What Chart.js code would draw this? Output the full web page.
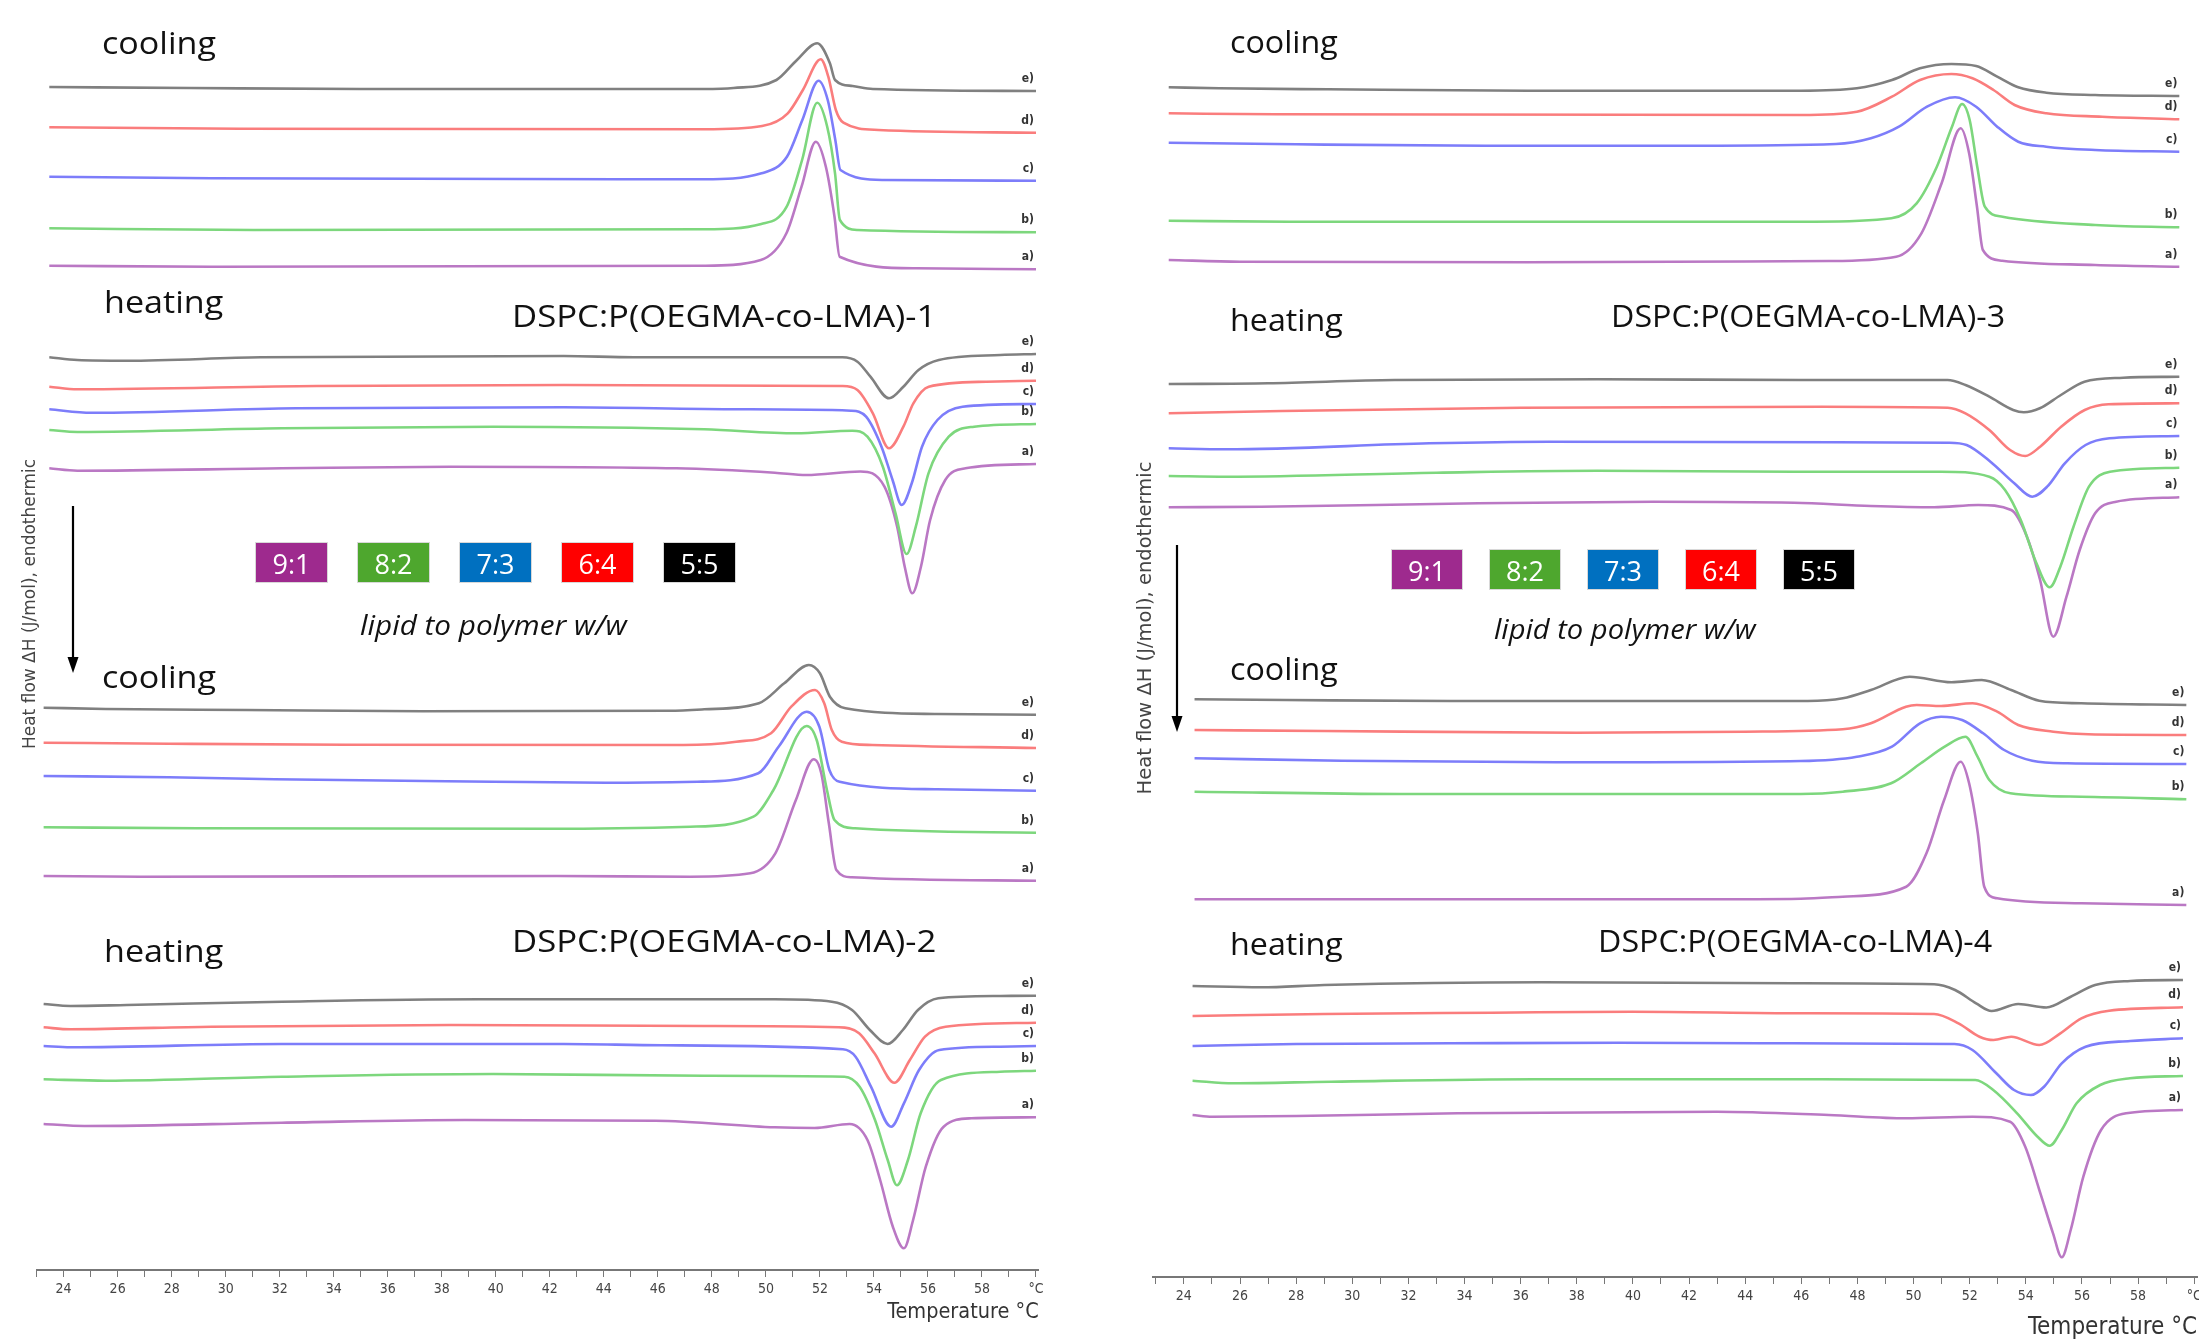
<!DOCTYPE html>
<html>
<head>
<meta charset="utf-8">
<title>DSPC:P(OEGMA-co-LMA) DSC thermograms</title>
<script src="https://cdn.jsdelivr.net/npm/chart.js@4.4.1/dist/chart.umd.min.js"></script>
<style>
  html, body { margin: 0; padding: 0; background: #fff; }
  body { position: relative; width: 2199px; height: 1340px; overflow: hidden; font-family: "Open Sans", Lato, sans-serif; color: #111; }
  .col { position: absolute; top: 0; height: 1340px; }
  .txt { position: absolute; line-height: 1; white-space: nowrap; font-size: 31px; transform-origin: 0 0; }
  .sl { transform: scaleX(1.1); }
  .slt { transform: scaleX(1.12); }
  .sr { transform: scaleX(1.04); }
  .legend { position: absolute; display: flex; }
  .legend span { display: block; height: 41px; line-height: 41px; text-align: center; color: #fff; font-size: 27px; box-sizing: border-box; border: 1px solid #d8d8d8; }
  .lipid { font-style: italic; }
  .ylab { position: absolute; transform: translate(-50%, -50%) rotate(-90deg); font-family: "DejaVu Sans", Verdana, sans-serif; color: #444; white-space: nowrap; }
  svg.arrow { position: absolute; overflow: visible; }
</style>
</head>
<body>

<div class="col" style="left:0;width:1100px"><canvas id="chartLeft"></canvas></div>
<div class="col" style="left:1100px;width:1099px"><canvas id="chartRight"></canvas></div>

<!-- left column texts -->
<div class="txt sl" style="left:102px;top:27px">cooling</div>
<div class="txt sl" style="left:104px;top:286px">heating</div>
<div class="txt slt" style="left:512px;top:300px">DSPC:P(OEGMA-co-LMA)-1</div>
<div class="txt sl" style="left:102px;top:661px">cooling</div>
<div class="txt sl" style="left:104px;top:935px">heating</div>
<div class="txt slt" style="left:512px;top:925px">DSPC:P(OEGMA-co-LMA)-2</div>
<div class="legend" id="legendLeft" style="left:255px;top:542px;gap:29px"></div>
<div class="txt lipid sl" style="left:360px;top:611px;font-size:27px">lipid to polymer w/w</div>
<div class="ylab" style="left:29px;top:604px;font-size:17px">Heat flow ΔH (J/mol), endothermic</div>
<svg class="arrow" style="left:66px;top:506px" width="14" height="168">
  <line x1="7" y1="0" x2="7" y2="156" stroke="#000" stroke-width="2.2"/>
  <path d="M1.5,151 L7,167 L12.5,151 Z" fill="#000"/>
</svg>

<!-- right column texts -->
<div class="txt sr" style="left:1230px;top:26px">cooling</div>
<div class="txt sr" style="left:1230px;top:304px">heating</div>
<div class="txt sr" style="left:1611px;top:300px">DSPC:P(OEGMA-co-LMA)-3</div>
<div class="txt sr" style="left:1230px;top:653px">cooling</div>
<div class="txt sr" style="left:1230px;top:928px">heating</div>
<div class="txt sr" style="left:1598px;top:925px">DSPC:P(OEGMA-co-LMA)-4</div>
<div class="legend" id="legendRight" style="left:1391px;top:549px;gap:26px"></div>
<div class="txt lipid sr" style="left:1494px;top:614px;font-size:28px">lipid to polymer w/w</div>
<div class="ylab" style="left:1144px;top:628px;font-size:19.5px">Heat flow ΔH (J/mol), endothermic</div>
<svg class="arrow" style="left:1170px;top:545px" width="14" height="188">
  <line x1="7" y1="0" x2="7" y2="176" stroke="#000" stroke-width="2.2"/>
  <path d="M1.5,171 L7,187 L12.5,171 Z" fill="#000"/>
</svg>

<script>
// curve order inside every panel: e), d), c), b), a)
const curveTags = ['e)', 'd)', 'c)', 'b)', 'a)'];
const curveColors = ['rgb(128,128,128)', 'rgb(250,125,125)', 'rgb(125,125,250)', 'rgb(125,215,125)', 'rgb(186,120,196)'];

// legend (lipid to polymer w/w)
const ratios = ['9:1', '8:2', '7:3', '6:4', '5:5'];
const ratioColors = ['#9e2a8e', '#4ea72e', '#0070c0', '#ff0000', '#000000'];

// x axis: °C, labels on even values, unit shown in place of 60
const majorTicks = [24, 26, 28, 30, 32, 34, 36, 38, 40, 42, 44, 46, 48, 50, 52, 54, 56, 58];
const unitTick = 60;

// heat flow, arbitrary units (stacked, offset traces), points as [T, value]
// polymer 1, cooling
const p1Cool = [
  [[23.47,118.3],[28.7,118.2],[35,118.1],[47.7,118.1],[48.8,118.2],[50.39,119.0],[51.15,121.0],[51.9,122.67],[52.37,120.67],[52.56,119.0],[53.21,118.4],[53.96,118.1],[60,117.9]],
  [[23.47,114.27],[30.5,114.13],[47.72,114.07],[49.86,114.4],[50.81,115.67],[51.37,118.0],[52.03,121.07],[52.31,119.33],[52.59,116.0],[52.87,114.73],[54.17,114.0],[60,113.73]],
  [[23.47,109.33],[29.47,109.17],[47.72,109.07],[49.84,109.67],[50.78,111.33],[51.35,115.0],[51.95,118.93],[52.29,117.0],[52.57,113.0],[52.76,110.0],[54.36,109.0],[60,108.93]],
  [[23.47,104.17],[31.03,104.0],[47.72,104.07],[49.83,104.6],[50.77,106.33],[51.34,111.0],[51.9,116.73],[52.27,114.33],[52.56,109.67],[52.74,105.0],[53.4,104.0],[60,103.77]],
  [[23.47,100.43],[29.47,100.33],[47.72,100.43],[49.81,101.0],[50.76,103.67],[51.32,108.33],[51.85,112.83],[52.22,110.33],[52.54,105.33],[52.73,101.33],[55.55,100.17],[60,100.07]]
];
// polymer 1, heating
const p1Heat = [
  [[23.47,91.27],[24.51,91.0],[26.34,90.93],[31.3,91.27],[42.51,91.4],[45.12,91.27],[52.83,91.27],[53.39,90.83],[53.87,89.33],[54.56,87.17],[55.09,88.33],[55.65,90.0],[56.4,91.0],[58.68,91.5],[60,91.6]],
  [[23.47,88.33],[24.51,88.07],[33.38,88.4],[42.51,88.5],[52.83,88.4],[53.39,88.0],[53.96,85.67],[54.56,82.17],[55.09,84.33],[55.46,86.67],[56.03,88.33],[58.16,88.83],[60,88.93]],
  [[23.47,86.07],[25.03,85.73],[32.6,86.17],[42.51,86.27],[49.02,86.07],[53.15,85.93],[53.71,85.33],[54.28,82.33],[54.69,79.0],[55.03,76.5],[55.4,78.67],[55.78,82.33],[56.35,85.0],[57.28,86.33],[60,86.6]],
  [[23.47,84.0],[24.51,83.8],[32.08,84.17],[39.9,84.33],[47.72,84.07],[51.12,83.67],[53.2,83.93],[53.76,83.33],[54.33,80.33],[54.8,75.67],[55.21,71.6],[55.55,74.33],[56.02,79.67],[56.77,83.33],[57.71,84.33],[60,84.6]],
  [[23.47,80.17],[24.51,79.93],[32.08,80.17],[38.34,80.33],[46.68,80.17],[50.33,79.73],[51.5,79.5],[53.5,79.85],[54.39,78.33],[54.86,74.33],[55.14,70.33],[55.42,67.67],[55.74,70.33],[56.08,75.0],[56.64,79.0],[57.39,80.17],[60,80.6]]
];
// polymer 2, cooling
const p2Cool = [
  [[23.26,56.23],[25.56,56.1],[30.77,56.0],[37.3,55.87],[46.42,55.93],[47.72,56.07],[49.74,56.67],[50.68,58.67],[51.59,60.5],[52.0,59.67],[52.37,57.33],[52.94,56.17],[56.33,55.6],[60,55.53]],
  [[23.26,52.73],[27.9,52.63],[34.43,52.53],[46.94,52.5],[48.9,52.83],[50.19,53.67],[50.94,56.33],[51.82,58.0],[52.16,56.67],[52.44,54.0],[52.81,52.83],[53.94,52.5],[60,52.2]],
  [[23.26,49.4],[27.9,49.27],[31.81,49.07],[39.9,48.83],[44.07,48.73],[47.47,48.83],[49.72,49.67],[50.47,52.33],[51.51,55.83],[51.98,54.33],[52.35,50.0],[52.73,48.83],[56.33,48.07],[60,47.93]],
  [[23.26,44.27],[28.95,44.17],[41.99,44.13],[47.2,44.33],[49.54,45.33],[50.28,48.0],[51.51,54.4],[51.88,53.0],[52.26,48.0],[52.54,45.0],[53.3,44.17],[60,43.73]],
  [[23.26,39.4],[26.86,39.33],[42.25,39.4],[47.2,39.33],[49.42,39.67],[50.35,41.67],[51.11,47.0],[51.77,51.07],[52.05,49.67],[52.33,44.67],[52.61,40.0],[53.18,39.27],[60,38.93]]
];
// polymer 2, heating
const p2Heat = [
  [[23.26,26.6],[24.25,26.4],[26.34,26.5],[32.08,26.83],[39.38,27.07],[50.33,27.07],[52.44,26.83],[53.19,26.0],[53.85,24.0],[54.51,22.6],[55.07,24.0],[55.63,26.0],[56.38,27.17],[58.68,27.4],[60,27.43]],
  [[23.26,24.27],[24.25,24.07],[29.47,24.33],[38.34,24.5],[47.72,24.4],[52.7,24.27],[53.45,23.67],[54.02,21.67],[54.76,18.73],[55.33,21.0],[55.89,23.33],[56.65,24.33],[60,24.73]],
  [[23.26,22.4],[24.25,22.27],[32.08,22.6],[42.51,22.6],[46.16,22.47],[52.85,22.07],[53.32,21.33],[53.89,18.33],[54.64,14.33],[55.11,16.67],[55.67,20.0],[56.42,22.0],[58.68,22.33],[60,22.4]],
  [[23.26,19.07],[25.56,18.93],[32.08,19.33],[39.9,19.6],[47.72,19.43],[52.91,19.33],[53.47,18.33],[54.04,15.0],[54.51,11.0],[54.85,8.47],[55.26,11.0],[55.73,15.67],[56.48,19.0],[58.68,19.83],[60,19.93]],
  [[23.26,14.6],[24.77,14.4],[32.08,14.73],[38.86,15.0],[45.9,14.93],[50.33,14.27],[51.8,14.2],[53.1,14.6],[53.76,13.0],[54.23,9.0],[54.7,4.33],[55.11,2.17],[55.45,5.0],[55.92,10.33],[56.58,14.33],[57.61,15.17],[60,15.27]]
];
// polymer 3, cooling
const p3Cool = [
  [[23.46,118.97],[25.26,118.87],[29.13,118.77],[36.25,118.63],[45.98,118.63],[47.98,118.87],[49.23,119.7],[50.23,120.87],[51.35,121.3],[52.23,121.1],[52.98,120.03],[53.73,118.97],[54.73,118.43],[56.47,118.2],[59.47,118.1]],
  [[23.46,116.37],[27.25,116.27],[45.98,116.2],[47.98,116.53],[49.23,118.03],[50.23,119.7],[51.35,120.3],[52.1,119.87],[52.85,118.7],[53.6,117.2],[54.73,116.37],[56.72,116.03],[59.47,115.77]],
  [[23.46,113.43],[28.0,113.27],[34.75,113.13],[42.24,113.13],[47.23,113.3],[48.48,113.87],[49.48,115.03],[50.48,117.03],[51.48,117.97],[52.23,117.03],[52.98,115.03],[53.73,113.53],[54.73,113.03],[56.47,112.7],[59.47,112.53]],
  [[23.46,105.63],[27.75,105.53],[46.48,105.53],[49.21,105.87],[50.11,107.37],[50.83,111.03],[51.37,115.03],[51.73,117.3],[52.0,115.7],[52.27,111.03],[52.54,107.03],[53.17,106.03],[56.47,105.2],[59.47,104.97]],
  [[23.46,101.7],[26.0,101.53],[36.25,101.47],[46.98,101.6],[49.38,102.03],[50.28,104.37],[51.0,109.37],[51.68,114.87],[51.98,112.37],[52.26,107.03],[52.47,102.7],[53.16,101.63],[56.47,101.2],[59.47,101.03]]
];
// polymer 3, heating
const p3Heat = [
  [[23.46,89.3],[27.0,89.37],[31.5,89.7],[38.74,89.77],[45.98,89.7],[51.21,89.7],[51.85,89.2],[52.7,88.03],[53.55,86.7],[53.93,86.47],[54.5,86.87],[55.25,88.2],[56.09,89.53],[57.47,89.93],[59.47,90.03]],
  [[23.46,86.37],[27.5,86.6],[36.0,86.93],[46.73,87.03],[51.22,86.93],[51.85,86.37],[52.7,84.7],[53.44,82.7],[53.98,82.1],[54.51,83.03],[55.26,85.03],[56.1,86.7],[56.95,87.27],[59.47,87.37]],
  [[23.46,82.87],[25.51,82.77],[32.75,83.37],[37.0,83.53],[47.23,83.47],[51.25,83.43],[51.89,83.2],[52.74,81.53],[53.59,79.37],[54.23,78.03],[54.76,79.03],[55.39,81.37],[56.13,83.2],[56.98,83.87],[59.47,84.1]],
  [[23.46,80.1],[25.51,80.03],[33.0,80.43],[38.74,80.63],[45.74,80.53],[50.98,80.53],[52.7,80.03],[53.26,78.7],[53.82,75.7],[54.38,71.37],[54.85,68.97],[55.23,71.03],[55.7,75.03],[56.25,79.03],[57.0,80.53],[59.47,80.93]],
  [[23.46,76.97],[26.75,77.03],[34.5,77.37],[40.74,77.53],[45.74,77.43],[48.48,77.1],[50.73,76.97],[52.3,77.2],[53.48,76.7],[54.04,74.03],[54.51,69.7],[54.98,64.03],[55.45,68.03],[55.92,72.7],[56.47,76.37],[57.22,77.53],[59.47,77.97]]
];
// polymer 4, cooling
const p4Cool = [
  [[24.38,57.77],[27.63,57.7],[33.5,57.6],[46.23,57.6],[47.48,57.87],[48.48,58.7],[49.86,60.03],[51.35,59.47],[52.43,59.7],[53.48,58.7],[54.48,57.63],[55.98,57.37],[59.72,57.2]],
  [[24.38,54.7],[29.0,54.6],[37.99,54.43],[43.99,54.53],[47.48,54.77],[48.48,55.37],[49.73,57.03],[50.11,57.2],[50.98,57.1],[52.1,57.37],[52.98,56.53],[53.73,55.2],[54.98,54.53],[56.23,54.27],[59.72,54.2]],
  [[24.38,51.87],[29.63,51.63],[37.24,51.47],[45.98,51.6],[47.98,52.03],[49.23,53.03],[50.23,55.37],[50.98,56.03],[51.73,55.7],[52.48,54.37],[53.23,52.7],[54.23,51.63],[55.48,51.37],[59.72,51.3]],
  [[24.38,48.53],[31.75,48.3],[45.98,48.3],[47.48,48.53],[49.2,49.37],[50.26,51.37],[51.11,53.03],[51.85,54.03],[52.28,52.03],[52.7,49.7],[53.45,48.37],[55.98,48.03],[59.72,47.77]],
  [[24.38,37.77],[42.24,37.77],[45.98,37.83],[47.48,38.03],[49.74,39.03],[50.46,42.37],[51.09,47.7],[51.68,51.53],[51.98,49.37],[52.29,44.37],[52.52,39.03],[52.98,37.87],[55.98,37.37],[59.72,37.2]]
];
// polymer 4, heating
const p4Heat = [
  [[24.31,29.1],[26.75,28.97],[29.0,29.2],[36.74,29.47],[45.74,29.37],[50.73,29.27],[51.48,28.7],[52.23,27.37],[52.78,26.6],[53.73,27.3],[54.73,26.95],[55.6,28.03],[56.47,29.2],[57.72,29.6],[59.6,29.7]],
  [[24.31,26.1],[29.0,26.3],[34.99,26.43],[39.99,26.53],[45.98,26.37],[50.73,26.3],[51.6,25.37],[52.35,24.03],[52.85,23.7],[53.48,24.03],[54.48,23.2],[55.23,24.37],[55.98,25.87],[56.97,26.63],[59.6,26.97]],
  [[24.31,23.1],[28.0,23.3],[33.5,23.37],[39.49,23.43],[44.49,23.37],[51.46,23.3],[52.1,22.7],[52.95,20.37],[53.58,18.7],[54.18,18.2],[54.65,19.03],[55.28,21.37],[56.13,23.03],[57.72,23.6],[59.6,23.87]],
  [[24.31,19.63],[25.76,19.37],[29.25,19.53],[36.5,19.77],[46.73,19.77],[52.2,19.7],[52.84,18.7],[53.69,16.37],[54.42,14.03],[54.85,13.13],[55.28,14.7],[55.81,17.37],[56.65,19.2],[57.71,19.87],[59.6,20.1]],
  [[24.31,16.2],[25.01,16.03],[28.0,16.1],[33.75,16.37],[42.99,16.53],[46.98,16.2],[49.73,15.87],[52.1,16.03],[53.44,15.53],[53.98,13.03],[54.52,8.37],[54.97,4.37],[55.28,1.97],[55.6,4.7],[56.05,10.03],[56.68,14.7],[57.58,16.37],[59.6,16.7]]
];

// legends
['legendLeft', 'legendRight'].forEach((id, k) => {
  const box = document.getElementById(id);
  ratios.forEach((r, i) => {
    const s = document.createElement('span');
    s.textContent = r;
    s.style.background = ratioColors[i];
    s.style.width = (k === 0 ? 73 : 72) + 'px';
    box.appendChild(s);
  });
});

// small e) ... a) tags just above the end of every trace
const endLabels = {
  id: 'endLabels',
  afterDatasetsDraw(chart) {
    const ctx = chart.ctx;
    ctx.save();
    ctx.font = 'bold 12px "DejaVu Sans Condensed", "Liberation Sans Narrow", Roboto, sans-serif';
    ctx.fillStyle = '#333';
    ctx.textAlign = 'right';
    ctx.textBaseline = 'bottom';
    chart.data.datasets.forEach((ds, i) => {
      const pts = chart.getDatasetMeta(i).data;
      const p = pts[pts.length - 1];
      ctx.fillText(ds.tag, p.x - 2, p.y - 6);
    });
    ctx.restore();
  }
};

const axisFont = '"DejaVu Sans Condensed", "Liberation Sans Narrow", Roboto, sans-serif';

function makeChart(id, panels, xMin, xMax, yMax, pad, axisHeight, titlePad, titleSize) {
  const datasets = [];
  panels.forEach(panel => {
    panel.forEach((curve, i) => {
      datasets.push({
        tag: curveTags[i],
        data: curve.map(p => ({x: p[0], y: p[1]})),
        borderColor: curveColors[i],
        borderWidth: 2.6,
        pointRadius: 0,
        fill: false,
        cubicInterpolationMode: 'monotone'
      });
    });
  });

  return new Chart(document.getElementById(id), {
    type: 'line',
    data: { datasets: datasets },
    options: {
      responsive: true,
      maintainAspectRatio: false,
      animation: false,
      layout: { padding: pad },
      plugins: {
        legend: { display: false },
        tooltip: { enabled: false }
      },
      scales: {
        x: {
          type: 'linear',
          min: xMin,
          max: xMax,
          ticks: {
            stepSize: 1,
            includeBounds: false,
            autoSkip: false,
            maxRotation: 0,
            padding: 4,
            color: '#444',
            font: { family: axisFont, size: 14 },
            callback: v => v === unitTick ? '°C' : (majorTicks.includes(v) ? String(v) : '')
          },
          grid: { drawOnChartArea: false, tickLength: 7, color: '#777' },
          border: { display: true, color: '#777', width: 2 },
          title: {
            display: true,
            text: 'Temperature °C',
            align: 'end',
            color: '#333',
            font: { family: axisFont, size: titleSize, lineHeight: 1 },
            padding: { top: 0, bottom: titlePad }
          },
          afterFit(scale) {
            scale.height = axisHeight;
            scale.paddingLeft = 0;
            scale.paddingRight = 0;
          }
        },
        y: { display: false, min: 0, max: yMax }
      }
    },
    plugins: [endLabels]
  });
}

makeChart('chartLeft', [p1Cool, p1Heat, p2Cool, p2Heat], 23.0, 60.1, 127,
  { left: 36.6, right: 61.3, top: 0, bottom: 0 }, 70, 17, 21.5);
makeChart('chartRight', [p3Cool, p3Heat, p4Cool, p4Heat], 22.9, 60.1, 127.7,
  { left: 53, right: 2, top: 0, bottom: 0 }, 63, 0, 24);
</script>
</body>
</html>
